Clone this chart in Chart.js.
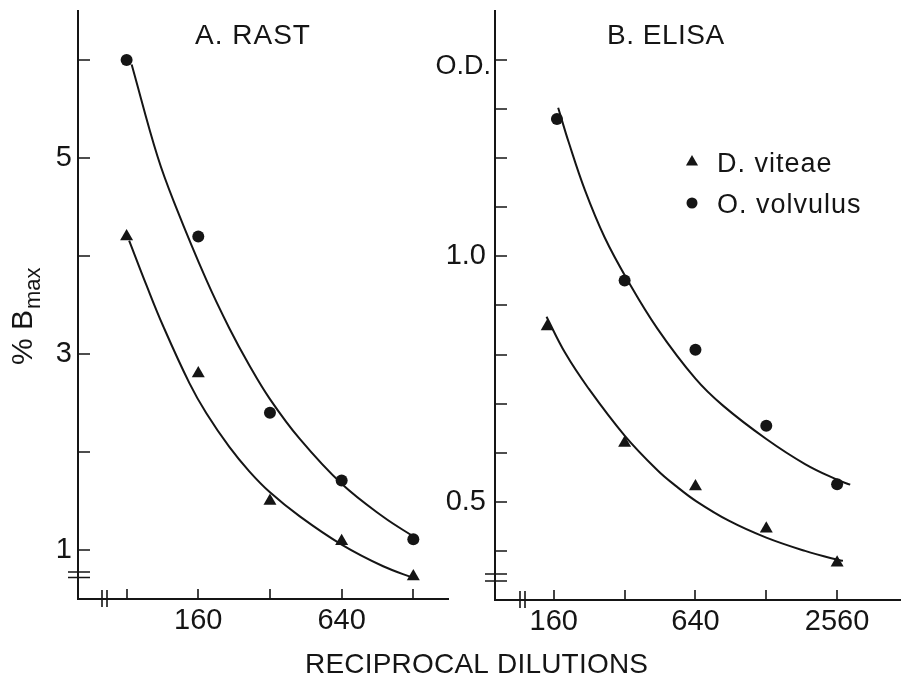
<!DOCTYPE html>
<html>
<head>
<meta charset="utf-8">
<script src="https://cdn.jsdelivr.net/npm/chart.js@4.4.1/dist/chart.umd.min.js"></script>
<style>
  html, body { margin: 0; padding: 0; background: #fff; }
  #wrap { position: relative; width: 908px; height: 684px; overflow: hidden; }
  #rast { position: absolute; left: 0; top: 0; }
  #elisa { position: absolute; left: 280px; top: 0; }
</style>
</head>
<body>
<div id="wrap">
  <canvas id="rast" width="460" height="684"></canvas>
  <canvas id="elisa" width="628" height="684"></canvas>
</div>
<script>
// ---- A. RAST (% Bmax) ----
const rastTicksX = [80, 160, 320, 640, 1280];
const rastLabelsX = [160, 640];
const rastTicksY = [1, 2, 3, 4, 5, 6];
const rastLabelsY = [1, 3, 5];
const rastDil = [80, 160, 320, 640, 1280];
const rastViteae = [4.2, 2.8, 1.5, 1.09, 0.73];
const rastVolvulus = [6.0, 4.2, 2.4, 1.71, 1.11];
// fitted curves
const rastFitVolX = [84, 108, 129, 173, 216, 262, 320, 427, 640, 956, 1280, 1320];
const rastFitVolY = [5.955, 5.012, 4.499, 3.756, 3.263, 2.886, 2.54, 2.133, 1.675, 1.339, 1.139, 1.121];
const rastFitVitX = [82, 97, 114, 147, 173, 216, 262, 320, 427, 640, 956, 1280, 1320];
const rastFitVitY = [4.158, 3.7, 3.283, 2.7, 2.395, 2.052, 1.803, 1.589, 1.343, 1.055, 0.834, 0.716, 0.706];

// ---- B. ELISA (O.D.) ----
const elisaTicksX = [160, 320, 640, 1280, 2560];
const elisaLabelsX = [160, 640, 2560];
const elisaTicksY = [0.4, 0.5, 0.6, 0.7, 0.8, 0.9, 1.0, 1.1, 1.2, 1.3, 1.4];
const elisaLabelsY = [0.5, 1.0];
const elisaDilVit = [150, 320, 640, 1280, 2560];
const elisaViteae = [0.857, 0.62, 0.531, 0.445, 0.376];
const elisaDilVol = [165, 320, 640, 1280, 2560];
const elisaVolvulus = [1.28, 0.951, 0.81, 0.655, 0.536];
const elisaFitVolX = [167, 185, 217, 263, 329, 441, 640, 838, 1280, 1870, 2560, 2910];
const elisaFitVolY = [1.303, 1.233, 1.135, 1.039, 0.952, 0.853, 0.751, 0.696, 0.628, 0.577, 0.545, 0.535];
const elisaFitVitX = [149, 179, 224, 320, 440, 533, 646, 891, 1280, 1870, 2560, 2710];
const elisaFitVitY = [0.877, 0.803, 0.732, 0.635, 0.565, 0.531, 0.501, 0.461, 0.427, 0.4, 0.382, 0.38];

const ink = '#151515';
const FONT = '"Liberation Sans", Arial, Helvetica, sans-serif';

function pts(xs, ys) { return xs.map((x, i) => ({ x: x, y: ys[i] })); }

function marks(label, xs, ys, style, r) {
  return {
    label: label, data: pts(xs, ys), showLine: false,
    pointStyle: style, pointRadius: r, pointHoverRadius: r,
    backgroundColor: ink, borderColor: ink, borderWidth: 0
  };
}
function curve(xs, ys) {
  return {
    label: '', data: pts(xs, ys), showLine: true, pointRadius: 0,
    borderColor: ink, borderWidth: 2, tension: 0.4, fill: false
  };
}

// inward ticks, axis breaks, panel texts and legend
const figureDeco = {
  id: 'figureDeco',
  afterDraw(chart, args, o) {
    const ctx = chart.ctx, a = chart.chartArea;
    const sx = chart.scales.x, sy = chart.scales.y;
    const off = o.offset;
    ctx.save();
    ctx.strokeStyle = ink;
    ctx.fillStyle = ink;
    ctx.lineWidth = 1.6;
    ctx.beginPath();
    o.xTicks.forEach(v => {
      const px = Math.round(sx.getPixelForValue(v));
      ctx.moveTo(px, a.bottom); ctx.lineTo(px, a.bottom - 10);
    });
    o.yTicks.forEach(v => {
      const py = Math.round(sy.getPixelForValue(v));
      ctx.moveTo(a.left, py); ctx.lineTo(a.left + 12, py);
    });
    ctx.stroke();

    ctx.beginPath();
    o.xBreak.forEach(d => { ctx.moveTo(a.left + d, a.bottom - 9); ctx.lineTo(a.left + d, a.bottom + 8); });
    o.yBreak.forEach(d => { ctx.moveTo(a.left - 10, a.bottom - d); ctx.lineTo(a.left + 12, a.bottom - d); });
    ctx.stroke();

    ctx.textBaseline = 'alphabetic';
    (o.texts || []).forEach(t => {
      ctx.font = t.font;
      ctx.letterSpacing = t.spacing || '0px';
      ctx.textAlign = t.align || 'left';
      ctx.fillText(t.text, t.x - off, t.y);
    });
    ctx.letterSpacing = '0px';

    if (o.yTitle) {
      const t = o.yTitle;
      ctx.save();
      ctx.translate(t.x - off, t.y);
      ctx.rotate(-Math.PI / 2);
      ctx.textAlign = 'left';
      ctx.font = '30px ' + FONT;
      ctx.fillText(t.main, 0, 0);
      const w = ctx.measureText(t.main).width;
      ctx.font = '22px ' + FONT;
      ctx.fillText(t.sub, w + 1, 8);
      ctx.restore();
    }

    if (o.legend) {
      const lg = o.legend;
      ctx.font = '27px ' + FONT;
      ctx.letterSpacing = '1px';
      ctx.textAlign = 'left';
      lg.items.forEach(it => {
        const ds = chart.data.datasets[it.dataset];
        const cx = lg.x - off, cy = it.y;
        ctx.beginPath();
        if (ds.pointStyle === 'triangle') {
          const r = 7;
          ctx.moveTo(cx, cy - r);
          ctx.lineTo(cx + r * 0.866, cy + r / 2);
          ctx.lineTo(cx - r * 0.866, cy + r / 2);
          ctx.closePath();
        } else {
          ctx.arc(cx, cy, 5.5, 0, Math.PI * 2);
        }
        ctx.fill();
        ctx.fillText(ds.label, lg.textX - off, it.y + 10);
      });
      ctx.letterSpacing = '0px';
    }
    ctx.restore();
  }
};

function axisX(min, max, ticks, labels, h) {
  return {
    type: 'logarithmic', min: min, max: max,
    afterBuildTicks: s => { s.ticks = ticks.map(v => ({ value: v })); },
    afterFit: s => { s.height = h; s.paddingLeft = 0; s.paddingRight = 0; },
    grid: { display: false, drawTicks: false },
    border: { display: true, color: ink, width: 2 },
    ticks: {
      autoSkip: false, maxRotation: 0, padding: 5, color: ink,
      font: { family: FONT, size: 29 },
      callback: v => labels.includes(v) ? String(v) : ''
    }
  };
}
function axisY(min, max, ticks, labels, w, pad, fmt) {
  return {
    type: 'linear', min: min, max: max,
    afterBuildTicks: s => { s.ticks = ticks.map(v => ({ value: v })); },
    afterFit: s => { s.width = w; s.paddingTop = 0; s.paddingBottom = 0; },
    grid: { display: false, drawTicks: false },
    border: { display: true, color: ink, width: 2 },
    ticks: {
      autoSkip: false, padding: pad, color: ink,
      font: { family: FONT, size: 29 },
      callback: v => labels.some(l => Math.abs(l - v) < 1e-6) ? fmt(v) : ''
    }
  };
}

const common = {
  responsive: false, animation: false, devicePixelRatio: 1,
  plugins: { legend: { display: false }, tooltip: { enabled: false }, title: { display: false } }
};

new Chart(document.getElementById('rast'), {
  type: 'scatter',
  data: {
    datasets: [
      marks('D. viteae', rastDil, rastViteae, 'triangle', 7.5),
      marks('O. volvulus', rastDil, rastVolvulus, 'circle', 6),
      curve(rastFitVitX, rastFitVitY),
      curve(rastFitVolX, rastFitVolY)
    ]
  },
  options: Object.assign({}, common, {
    layout: { padding: { left: 0, right: 12, top: 11, bottom: 0 } },
    scales: {
      x: axisX(50, 1790, rastTicksX, rastLabelsX, 85),
      y: axisY(0.5, 6.5, rastTicksY, rastLabelsY, 78, 6, v => String(v))
    },
    plugins: Object.assign({}, common.plugins, {
      figureDeco: {
        offset: 0,
        xTicks: rastTicksX, yTicks: rastTicksY,
        xBreak: [24, 29], yBreak: [27, 21.5],
        texts: [{ text: 'A. RAST', x: 195, y: 44, font: '28px ' + FONT, spacing: '1px' }],
        yTitle: { main: '% B', sub: 'max', x: 32, y: 365 }
      }
    })
  }),
  plugins: [figureDeco]
});

new Chart(document.getElementById('elisa'), {
  type: 'scatter',
  data: {
    datasets: [
      marks('D. viteae', elisaDilVit, elisaViteae, 'triangle', 7.5),
      marks('O. volvulus', elisaDilVol, elisaVolvulus, 'circle', 6),
      curve(elisaFitVitX, elisaFitVitY),
      curve(elisaFitVolX, elisaFitVolY)
    ]
  },
  options: Object.assign({}, common, {
    layout: { padding: { left: 0, right: 1, top: 11, bottom: 0 } },
    scales: {
      x: axisX(90, 4760, elisaTicksX, elisaLabelsX, 84),
      y: axisY(0.3, 1.5, elisaTicksY, elisaLabelsY, 215, 9, v => v.toFixed(1))
    },
    plugins: Object.assign({}, common.plugins, {
      figureDeco: {
        offset: 280,
        xTicks: elisaTicksX, yTicks: elisaTicksY,
        xBreak: [25, 30], yBreak: [26, 19],
        texts: [
          { text: 'B. ELISA', x: 607, y: 44, font: '28px ' + FONT, spacing: '0.5px' },
          { text: 'O.D.', x: 491, y: 74, font: '27px ' + FONT, align: 'right' },
          { text: 'RECIPROCAL DILUTIONS', x: 305, y: 673, font: '28px ' + FONT, spacing: '0.2px' }
        ],
        legend: { x: 692, textX: 717, items: [{ dataset: 0, y: 162 }, { dataset: 1, y: 203 }] }
      }
    })
  }),
  plugins: [figureDeco]
});
</script>
</body>
</html>
